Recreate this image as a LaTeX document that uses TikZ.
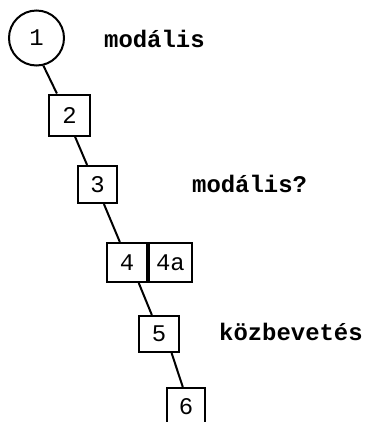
\documentclass[tikz,border=0pt]{standalone}
\usepackage{fontspec}
\setmonofont{Liberation Mono}
\usetikzlibrary{calc}
\begin{document}
\begin{tikzpicture}[x=1bp,y=-1bp,
  every node/.style={font=\ttfamily},
  box/.style={draw,line width=2bp,inner sep=0pt,font=\fontsize{24}{24}\selectfont\ttfamily},
  lbl/.style={anchor=base west,inner sep=0pt,font=\fontsize{24}{24}\selectfont\ttfamily\bfseries},
  conn/.style={line width=2bp}]
\useasboundingbox (0,0) rectangle (368,422);
\clip (0,0) rectangle (368,422);
\node[box,circle,minimum size=55bp] (c1) at (36.5,38) {1};
\node[box,minimum width=40bp,minimum height=41bp] (b2) at (69.5,115) {2};
\node[box,minimum width=38bp,minimum height=37bp] (b3) at (97.5,184.5) {3};
\node[box,minimum width=40bp,minimum height=39bp] (b4) at (127,262.5) {4};
\node[box,minimum width=43bp,minimum height=39bp,anchor=west] (b4a) at (b4.east) {4a};
\node[box,minimum width=40bp,minimum height=36bp] (b5) at (159,334) {5};
\node[box,minimum width=38bp,minimum height=38bp,anchor=north] (b6) at (186,387) {6};
\node[lbl] (t1) at (104,47) {modális};
\node[lbl] (t2) at (192,192) {modális?};
\node[lbl] (t3) at (219,340) {közbevetés};
\draw[conn] (c1.-76) -- ($(b2.north west)!0.2!(b2.north east)$);
\draw[conn] ($(b2.south west)!0.63!(b2.south east)$) -- ($(b3.north west)!0.24!(b3.north east)$);
\draw[conn] ($(b3.south west)!0.66!(b3.south east)$) -- ($(b4.north west)!0.33!(b4.north east)$);
\draw[conn] ($(b4.south west)!0.78!(b4.south east)$) -- ($(b5.north west)!0.33!(b5.north east)$);
\draw[conn] ($(b5.south west)!0.8!(b5.south east)$) -- ($(b6.north west)!0.42!(b6.north east)$);
\end{tikzpicture}
\end{document}
